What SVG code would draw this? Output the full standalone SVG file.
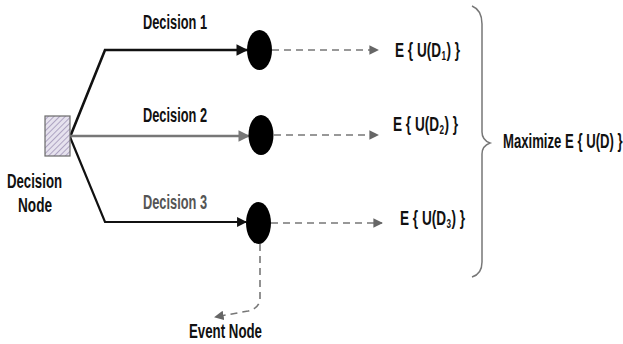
<svg xmlns="http://www.w3.org/2000/svg" width="623" height="344" viewBox="0 0 623 344">
<defs>
<style>
text{font-family:"Liberation Sans",Arial,sans-serif;font-weight:bold;fill:#111;}
.lbl{font-size:20px;}
.sub{font-size:12px;}
.dash{fill:none;stroke:#777;stroke-width:1.6;stroke-dasharray:7,5;}
.ev{fill:#000;}
</style>
<pattern id="hatch" width="4" height="4" patternUnits="userSpaceOnUse" patternTransform="rotate(45)">
<rect width="4" height="4" fill="#e6e2ee"/>
<line x1="0" y1="0" x2="0" y2="4" stroke="#9c90b4" stroke-width="1.5"/>
</pattern>
<marker id="ahB" viewBox="0 0 10 10" refX="9" refY="5" markerWidth="4.5" markerHeight="4.5" orient="auto" markerUnits="strokeWidth"><path d="M0,0 L10,5 L0,10 z" fill="#111"/></marker>
<marker id="ahG" viewBox="0 0 10 10" refX="9" refY="5" markerWidth="4.5" markerHeight="4.5" orient="auto" markerUnits="strokeWidth"><path d="M0,0 L10,5 L0,10 z" fill="#777"/></marker>
<marker id="ahD" viewBox="0 0 10 10" refX="9" refY="5" markerWidth="6" markerHeight="6" orient="auto" markerUnits="strokeWidth"><path d="M0,0 L10,5 L0,10 z" fill="#666"/></marker>
</defs>
<rect width="623" height="344" fill="#fff"/>

<g id="connectors">
<polyline points="70,137 105,50 247,50" fill="none" stroke="#111" stroke-width="2.6" marker-end="url(#ahB)"/>
<line x1="70" y1="136" x2="249" y2="136" stroke="#777" stroke-width="2.6" marker-end="url(#ahG)"/>
<polyline points="70,137 105,222 246,222" fill="none" stroke="#111" stroke-width="2.2" marker-end="url(#ahB)"/>
<line x1="272" y1="50" x2="378" y2="50" class="dash" marker-end="url(#ahD)"/>
<line x1="274" y1="135" x2="378" y2="135" class="dash" marker-end="url(#ahD)"/>
<line x1="271" y1="223" x2="382" y2="223" class="dash" marker-end="url(#ahD)"/>
<path d="M260,244 L260,298 Q260,308 248,311 L215,317" class="dash" marker-end="url(#ahD)"/>
<path d="M472,6 Q482,10 482,24 L482,132 Q482,140 490,143 Q482,146 482,154 L482,262 Q482,274 472,277" fill="none" stroke="#777" stroke-width="1.5"/>
</g>

<g id="decision-node">
<rect x="45" y="116" width="25" height="40" fill="url(#hatch)" stroke="#6a6a6a" stroke-width="1.2"/>
<text x="7" y="188" class="lbl" textLength="55" lengthAdjust="spacingAndGlyphs">Decision</text>
<text x="18" y="212" class="lbl" textLength="34" lengthAdjust="spacingAndGlyphs">Node</text>
</g>

<g id="event-node-1"><ellipse cx="259.5" cy="50" rx="12.5" ry="20" class="ev"/></g>
<g id="event-node-2"><ellipse cx="261" cy="135" rx="12.5" ry="20" class="ev"/></g>
<g id="event-node-3"><ellipse cx="258.5" cy="223" rx="12.5" ry="21" class="ev"/></g>

<g id="labels">
<text x="143" y="29" class="lbl" textLength="64" lengthAdjust="spacingAndGlyphs">Decision 1</text>
<text x="143" y="122" class="lbl" textLength="64" lengthAdjust="spacingAndGlyphs">Decision 2</text>
<text x="143" y="209" class="lbl" textLength="64" lengthAdjust="spacingAndGlyphs" style="fill:#555">Decision 3</text>
<text x="189" y="338" class="lbl" textLength="73" lengthAdjust="spacingAndGlyphs">Event Node</text>
</g>

<g id="outcome-1">
<text transform="translate(395,57) scale(0.68,1)" class="lbl">E { U(D</text>
<text transform="translate(441.5,60) scale(0.68,1)" class="sub">1</text>
<text transform="translate(446.5,57) scale(0.68,1)" class="lbl">) }</text>
</g>
<g id="outcome-2">
<text transform="translate(393,131) scale(0.68,1)" class="lbl">E { U(D</text>
<text transform="translate(439.5,134) scale(0.68,1)" class="sub">2</text>
<text transform="translate(444.5,131) scale(0.68,1)" class="lbl">) }</text>
</g>
<g id="outcome-3">
<text transform="translate(400,225) scale(0.68,1)" class="lbl">E { U(D</text>
<text transform="translate(446.5,228) scale(0.68,1)" class="sub">3</text>
<text transform="translate(451.5,225) scale(0.68,1)" class="lbl">) }</text>
</g>
<g id="maximize"><text transform="translate(503,148) scale(0.626,1)" font-size="21">Maximize E { U(D) }</text></g>
</svg>
